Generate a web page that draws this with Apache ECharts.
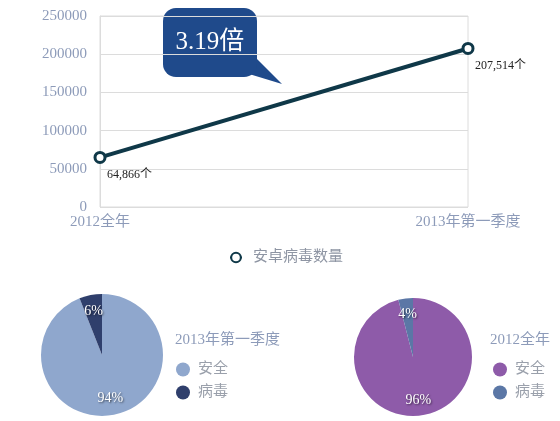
<html lang="zh">
<head>
<meta charset="UTF-8" />
<script src="https://cdn.jsdelivr.net/npm/echarts@6/dist/echarts.min.js"></script>
<style>
  * { padding: 0; margin: 0; }
  body { background: #fff; }
</style>
</head>
<body>
<div id="main" style="width:560px;height:421px"></div>
<script>
// line chart data
var periods = ["2012全年", "2013年第一季度"]
var virusCount = [64866, 207514]
var lineName = "安卓病毒数量"
var ratioText = "3.19倍"

// pie data
var pieNames = ["安全", "病毒"]
var pie2013 = [94, 6]
var pie2012 = [96, 4]
var pieTitles = ["2013年第一季度", "2012全年"]

var serif = "'Liberation Serif', 'Noto Sans CJK SC', serif"
var colors2013 = ["#8fa7cd", "#2f3f6c"]
var colors2012 = ["#8e5ba9", "#5b77a6"]
var lineColor = "#0f3848"

function pieData(vals, cols) {
  return pieNames.map(function (n, i) {
    return { name: n, value: vals[i], itemStyle: { color: cols[i] } }
  })
}
function legendData(cols) {
  return pieNames.map(function (n, i) {
    return { name: n, itemStyle: { color: cols[i] } }
  })
}
// labels sit on a second, see-through ring so they land further out than the default
function labelData(vals) {
  return pieNames.map(function (n, i) {
    return { name: n, value: vals[i] }
  })
}
var pieLabel = {
  show: true,
  position: "inside",
  formatter: "{c}%",
  color: "#fff",
  fontFamily: serif,
  fontSize: 14,
  textShadowColor: "rgba(0,0,0,0.6)",
  textShadowBlur: 2,
  textShadowOffsetX: 1,
  textShadowOffsetY: 1
}
var legendText = { fontFamily: serif, fontSize: 15, color: "#9aa0ab", padding: [0, 0, 0, 3] }

var chart = echarts.init(document.getElementById("main"))
var option = {
  backgroundColor: "#fff",
  animation: false,
  title: [
    { text: pieTitles[0], left: 170, top: 328, textStyle: { fontFamily: serif, fontSize: 15, fontWeight: "normal", color: "#8d9bb9" } },
    { text: pieTitles[1], left: 485, top: 328, textStyle: { fontFamily: serif, fontSize: 15, fontWeight: "normal", color: "#8d9bb9" } }
  ],
  grid: { left: 100, right: 92, top: 16, bottom: 214, show: true, borderColor: "#dcdcdc", borderWidth: 1 },
  legend: [
    {
      data: [lineName], left: 224, top: 245, itemWidth: 12, itemHeight: 12,
      textStyle: { fontFamily: serif, fontSize: 15, color: "#8e95a3", padding: [0, 0, 0, 6] }
    },
    {
      data: legendData(colors2013), orient: "vertical", left: 171, top: 357, icon: "circle",
      itemWidth: 14, itemHeight: 14, itemGap: 8, textStyle: legendText
    },
    {
      data: legendData(colors2012), orient: "vertical", left: 488, top: 357, icon: "circle",
      itemWidth: 14, itemHeight: 14, itemGap: 8, textStyle: legendText
    }
  ],
  xAxis: {
    type: "category",
    data: periods,
    boundaryGap: false,
    axisLine: { show: false },
    axisTick: { show: false },
    axisLabel: { fontFamily: serif, fontSize: 15, color: "#8d9bb9", margin: 8 }
  },
  yAxis: {
    type: "value",
    min: 0,
    max: 250000,
    interval: 50000,
    axisLine: { show: true, lineStyle: { color: "#dcdcdc" } },
    axisTick: { show: false },
    splitLine: { lineStyle: { color: "#dcdcdc" } },
    axisLabel: { fontFamily: serif, fontSize: 15, color: "#8d9bb9", margin: 13, formatter: function (v) { return String(v) } }
  },
  graphic: [
    {
      type: "polygon",
      shape: { points: [[236, 70], [282, 84], [256, 58]] },
      style: { fill: "#1f4a8b" }
    },
    {
      type: "rect",
      shape: { x: 163, y: 8, width: 94, height: 69, r: 13 },
      style: { fill: "#1f4a8b" }
    },
    {
      type: "text",
      x: 210, y: 42,
      style: { text: ratioText, fill: "#fff", font: "25px " + serif, align: "center", verticalAlign: "middle" }
    }
  ],
  series: [
    {
      name: lineName,
      type: "line",
      data: virusCount,
      symbol: "circle",
      symbolSize: 10,
      lineStyle: { width: 4, color: lineColor },
      itemStyle: { color: "#fff", borderColor: lineColor, borderWidth: 3 },
      label: {
        show: true,
        position: "bottom",
        align: "left",
        offset: [7, 0],
        fontFamily: serif,
        fontSize: 12,
        color: "#222",
        formatter: function (p) { return p.value.toLocaleString("en-US") + "个" }
      }
    },
    {
      type: "pie", center: [102, 355], radius: [0, 61], label: { show: false },
      data: pieData(pie2013, colors2013), silent: true
    },
    {
      type: "pie", center: [102, 355], radius: [22, 61], label: pieLabel, labelLine: { show: false },
      itemStyle: { color: "transparent" }, data: labelData(pie2013), silent: true
    },
    {
      type: "pie", center: [413, 357], radius: [0, 59], label: { show: false },
      data: pieData(pie2012, colors2012), silent: true
    },
    {
      type: "pie", center: [413, 357], radius: [22, 59], label: pieLabel, labelLine: { show: false },
      itemStyle: { color: "transparent" }, data: labelData(pie2012), silent: true
    }
  ]
}
chart.setOption(option)
</script>
</body>
</html>
